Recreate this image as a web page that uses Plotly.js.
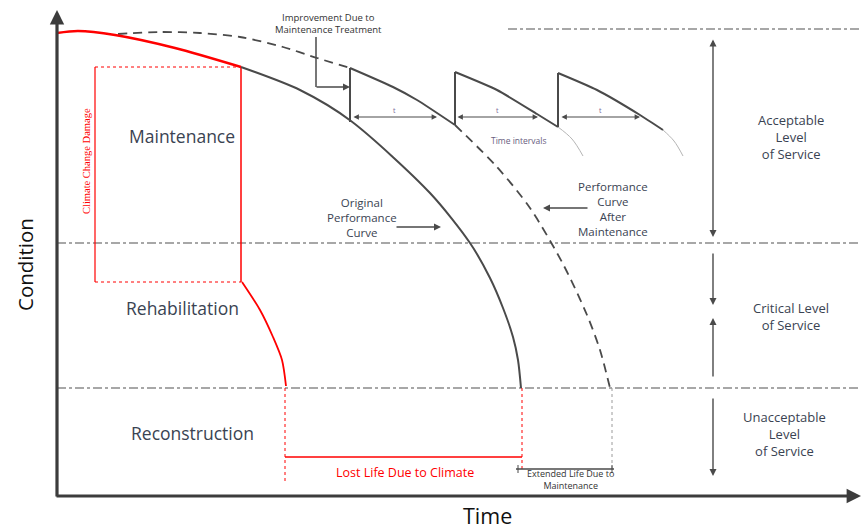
<!DOCTYPE html>
<html>
<head>
<meta charset="utf-8">
<script src="https://cdn.plot.ly/plotly-3.0.1.min.js"></script>
<style>html,body{margin:0;padding:0;background:#fff;}#chart{width:861px;height:531px;}</style>
</head>
<body>
<div id="chart"></div>
<script>
// ---- Diagram data (time on x, condition on y; image-space units) ----
const redCurveX = [57, 78, 115, 175, 241];
const redCurveY = [33, 31, 35, 48, 67];
const origCurveX = [241, 300, 351, 430, 470, 490, 503, 513, 518, 521];
const origCurveY = [67, 90, 121, 193, 243, 278, 308, 337, 360, 388];
const redDropX = [242, 260, 273, 282, 286];
const redDropY = [282, 310, 337, 360, 386];
const dashEarlyX = [118, 160, 200, 240, 283, 317, 350];
const dashEarlyY = [34, 32, 33, 37, 47, 58, 68];
const dashLateX = [455, 497, 530, 563, 587, 600, 610];
const dashLateY = [125, 167, 208, 264, 315, 350, 388];
const tooth1X = [350, 393, 417, 455];
const tooth1Y = [68, 87, 100, 125];
const tooth2X = [455, 497, 537, 558];
const tooth2Y = [72, 90, 114, 127];
const tooth3X = [558, 597, 640, 663];
const tooth3Y = [73, 90, 115, 130];
const fade2X = [558, 572, 583];
const fade2Y = [127, 139, 156];
const fade3X = [663, 674, 683];
const fade3Y = [130, 141, 156];
const toothRiseX = [350, 350, null, 455, 455, null, 558, 558];
const toothRiseY = [122, 68, null, 125, 72, null, 127, 73];
const intervalStart = [352, 456, 560];
const intervalEnd = [437, 538, 640];
const intervalLevel = 117;
const levelLines = [243, 388];
const topLevelLine = 29;

const zoneLabels = ['Maintenance', 'Rehabilitation', 'Reconstruction'];
const zoneLabelX = [182, 182, 192];
const zoneLabelY = [136, 308, 433];
const serviceLabels = ['Acceptable<br>Level<br>of Service', 'Critical Level<br>of Service', 'Unacceptable<br>Level<br>of Service'];
const serviceLabelX = [791, 791, 784];
const serviceLabelY = [137, 316, 434];

const dark = '#4a4a4a';
const textCol = '#3a4352';
const red = '#ff0000';
const gray = '#8a8a8a';
const FONT = '"Open Sans", "Liberation Sans", sans-serif';

const traces = [
  {x: origCurveX, y: origCurveY, mode: 'lines', line: {color: dark, width: 2, shape: 'spline', smoothing: 0.8}},
  {x: dashEarlyX, y: dashEarlyY, mode: 'lines', line: {color: dark, width: 1.8, dash: '9px,6px', shape: 'spline', smoothing: 0.8}},
  {x: dashLateX, y: dashLateY, mode: 'lines', line: {color: dark, width: 1.8, dash: '9px,6px', shape: 'spline', smoothing: 0.8}},
  {x: tooth1X, y: tooth1Y, mode: 'lines', line: {color: dark, width: 2, shape: 'spline', smoothing: 0.6}},
  {x: tooth2X, y: tooth2Y, mode: 'lines', line: {color: dark, width: 2, shape: 'spline', smoothing: 0.6}},
  {x: tooth3X, y: tooth3Y, mode: 'lines', line: {color: dark, width: 2, shape: 'spline', smoothing: 0.6}},
  {x: fade2X, y: fade2Y, mode: 'lines', line: {color: '#b5b5b5', width: 1, shape: 'spline'}},
  {x: fade3X, y: fade3Y, mode: 'lines', line: {color: '#b5b5b5', width: 1, shape: 'spline'}},
  {x: toothRiseX, y: toothRiseY, mode: 'lines', line: {color: dark, width: 2}, connectgaps: false},
  {x: redCurveX, y: redCurveY, mode: 'lines', line: {color: red, width: 2.5, shape: 'spline', smoothing: 0.8}},
  {x: redDropX, y: redDropY, mode: 'lines', line: {color: red, width: 1.8, shape: 'spline', smoothing: 0.8}}
];

const shapes = [];
function ln(x0, y0, x1, y1, color, width, dash) {
  shapes.push({type: 'line', xref: 'x', yref: 'y', x0, y0, x1, y1, line: {color, width, dash: dash || 'solid'}, layer: 'below'});
}
// dash-dot service level lines
ln(508, topLevelLine, 861, topLevelLine, gray, 1.6, '9px,3px,3px,3px');
levelLines.forEach(v => ln(57, v, 861, v, gray, 1.6, '9px,3px,3px,3px'));
// climate damage box
ln(95, 67, 241, 67, red, 1, 'dot');
ln(95, 282, 241, 282, red, 1, 'dot');
ln(95, 67, 95, 282, red, 1.2);
ln(241, 67, 241, 282, red, 1.5);
// lost life
ln(285, 388, 285, 481, red, 1, 'dot');
ln(522, 388, 522, 470, red, 1, 'dot');
ln(285, 457, 522, 457, red, 1.5);
// extended life
ln(612, 388, 612, 469, '#9a9a9a', 1, 'dot');
ln(516, 469, 614, 469, dark, 1.5);
ln(518, 465, 518, 473, dark, 1);
ln(612, 465, 612, 473, dark, 1);
// improvement leader
ln(316, 37, 316, 87, dark, 1.5);

const annotations = [];
function arrow(xh, yh, xt, yt, opts) {
  annotations.push(Object.assign({x: xh, y: yh, ax: xt, ay: yt, xref: 'x', yref: 'y', axref: 'x', ayref: 'y',
    text: '', showarrow: true, arrowhead: 2, arrowsize: 1, arrowwidth: 1.4, arrowcolor: dark, standoff: 0, startstandoff: 0}, opts || {}));
}
function txt(x, y, text, size, color, extra) {
  annotations.push(Object.assign({x, y, xref: 'x', yref: 'y', text, showarrow: false, xanchor: 'center', yanchor: 'middle',
    font: {family: FONT, size, color}}, extra || {}));
}
// axes
arrow(57, 10, 57, 498, {arrowwidth: 3.2, arrowcolor: '#3c3c3c', arrowsize: 0.9});
arrow(861, 496, 55, 496, {arrowwidth: 3.2, arrowcolor: '#3c3c3c', arrowsize: 0.9});
// interval arrows
intervalStart.forEach((s, i) => {
  arrow(intervalEnd[i], intervalLevel, s, intervalLevel, {arrowside: 'end+start', startarrowhead: 2, arrowwidth: 1.2, arrowsize: 0.9});
  txt((s + intervalEnd[i]) / 2, intervalLevel - 7, 't', 7, '#7a6a9a');
});
// improvement arrow
arrow(350, 87, 315, 87, {arrowwidth: 1.4});
// label arrows
arrow(441, 227, 395, 227, {arrowwidth: 1.4});
arrow(543, 208, 589, 208, {arrowwidth: 1.4});
// service level arrows
arrow(713, 237, 713, 38, {arrowside: 'end+start', startarrowhead: 2});
arrow(713, 305, 713, 252);
arrow(713, 318, 713, 378);
arrow(713, 476, 713, 397);

// zone labels
zoneLabels.forEach((t, i) => txt(zoneLabelX[i], zoneLabelY[i], t, 17.5, textCol));
serviceLabels.forEach((t, i) => txt(serviceLabelX[i], serviceLabelY[i], t, 13, textCol));
txt(362, 217, 'Original<br>Performance<br>Curve', 11.5, textCol);
txt(613, 209, 'Performance<br>Curve<br>After<br>Maintenance', 11.5, textCol);
txt(328, 23, 'Improvement Due to<br>Maintenance Treatment', 9.5, '#333');
txt(518, 140, 'Time intervals', 8.5, '#6a6080');
txt(570, 479, 'Extended Life Due to<br>Maintenance', 9, '#333');
txt(405, 472, 'Lost Life Due to Climate', 12.5, red);
txt(86, 161, 'Climate Change Damage', 10.5, red, {textangle: -90, font: {family: '"Liberation Serif", serif', size: 10.5, color: red}});
txt(25, 265, 'Condition', 20.5, '#111', {textangle: -90});
txt(487, 515, 'Time', 21.5, '#111');

const layout = {
  width: 861, height: 531,
  margin: {l: 0, r: 0, t: 0, b: 0},
  paper_bgcolor: '#fff', plot_bgcolor: '#fff',
  showlegend: false,
  xaxis: {range: [0, 861], visible: false, fixedrange: true},
  yaxis: {range: [531, 0], visible: false, fixedrange: true},
  shapes, annotations
};
Plotly.newPlot('chart', traces, layout, {displayModeBar: false, staticPlot: true});
</script>
</body>
</html>
